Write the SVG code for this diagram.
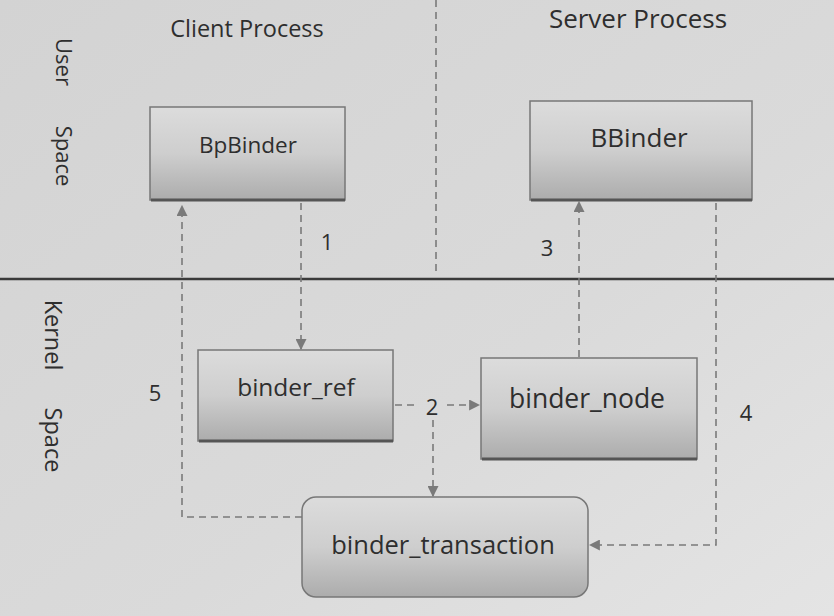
<svg xmlns="http://www.w3.org/2000/svg" width="834" height="616" viewBox="0 0 834 616">
<defs>
<linearGradient id="bg" x1="0" y1="0" x2="1" y2="1">
<stop offset="0" stop-color="#d3d3d3"/>
<stop offset="0.6" stop-color="#dadada"/>
<stop offset="1" stop-color="#e4e4e4"/>
</linearGradient>
<linearGradient id="boxg" x1="0" y1="0" x2="0" y2="1">
<stop offset="0" stop-color="#dcdcdc"/>
<stop offset="0.5" stop-color="#cecece"/>
<stop offset="1" stop-color="#acacac"/>
</linearGradient>
<marker id="ah" viewBox="0 0 10 10" refX="9" refY="5" markerWidth="11" markerHeight="11" markerUnits="userSpaceOnUse" orient="auto">
<path d="M0,0 L10,5 L0,10 z" fill="#7a7a7a"/>
</marker>
</defs>
<style>
.box{fill:url(#boxg);stroke:#777;stroke-width:1.5}
.shadow{fill:none;stroke:#555;stroke-width:3}
.lbl{font-family:"Open Sans","DejaVu Sans",sans-serif;font-size:22px;fill:#2e2e2e;text-anchor:middle}
.num{font-family:"Open Sans","DejaVu Sans",sans-serif;font-size:22px;fill:#2e2e2e;text-anchor:middle}
.dash{fill:none;stroke:#7a7a7a;stroke-width:1.6;stroke-dasharray:7 5}
</style>
<rect width="834" height="616" fill="url(#bg)"/>
<g id="regions">
<line x1="0" y1="279" x2="834" y2="279" stroke="#3a3a3a" stroke-width="2.5"/>
<line x1="436" y1="0" x2="436" y2="276" class="dash" stroke="#6a6a6a"/>
<text class="lbl" transform="translate(56,62) rotate(90)">User</text>
<text class="lbl" transform="translate(56,156) rotate(90)">Space</text>
<text class="lbl" transform="translate(45,335) rotate(90)" style="font-size:23.5px">Kernel</text>
<text class="lbl" transform="translate(45,440) rotate(90)" style="font-size:23.5px">Space</text>
<text class="lbl" x="247" y="37" style="font-size:23.5px">Client Process</text>
<text class="lbl" x="638" y="28" style="font-size:26px">Server Process</text>
</g>
<g id="connectors">
<path class="dash" d="M301,203 L301,349" marker-end="url(#ah)"/>
<path class="dash" d="M302,517 L182,517 L182,206" marker-end="url(#ah)"/>
<path class="dash" d="M395,405 L419,405"/>
<path class="dash" d="M447,405 L479,405" marker-end="url(#ah)"/>
<path class="dash" d="M433,420 L433,496" marker-end="url(#ah)"/>
<path class="dash" d="M579,357 L579,202" marker-end="url(#ah)"/>
<path class="dash" d="M716,203 L716,545 L590,545" marker-end="url(#ah)"/>
<text class="num" x="327" y="250">1</text>
<text class="num" x="432" y="415">2</text>
<text class="num" x="547" y="256">3</text>
<text class="num" x="746" y="421">4</text>
<text class="num" x="155" y="401">5</text>
</g>
<g id="BpBinder">
<rect class="box" x="150" y="107" width="195" height="93"/>
<line class="shadow" x1="151" y1="200" x2="345" y2="200"/>
<text class="lbl" x="248" y="153" style="font-size:22.5px">BpBinder</text>
</g>
<g id="BBinder">
<rect class="box" x="530" y="101" width="222" height="99"/>
<line class="shadow" x1="531" y1="200" x2="752" y2="200"/>
<text class="lbl" x="639" y="147" style="font-size:26px">BBinder</text>
</g>
<g id="binder_ref">
<rect class="box" x="198" y="350" width="195" height="91"/>
<line class="shadow" x1="199" y1="441" x2="393" y2="441"/>
<text class="lbl" x="296" y="396" style="font-size:24.5px">binder_ref</text>
</g>
<g id="binder_node">
<rect class="box" x="481" y="358" width="216" height="101"/>
<line class="shadow" x1="482" y1="459" x2="697" y2="459"/>
<text class="lbl" x="587" y="408" style="font-size:26.5px">binder_node</text>
</g>
<g id="binder_transaction">
<rect class="box" x="302" y="497" width="286" height="100" rx="14" ry="14"/>
<text class="lbl" x="443" y="554" style="font-size:25.5px">binder_transaction</text>
</g>
</svg>
